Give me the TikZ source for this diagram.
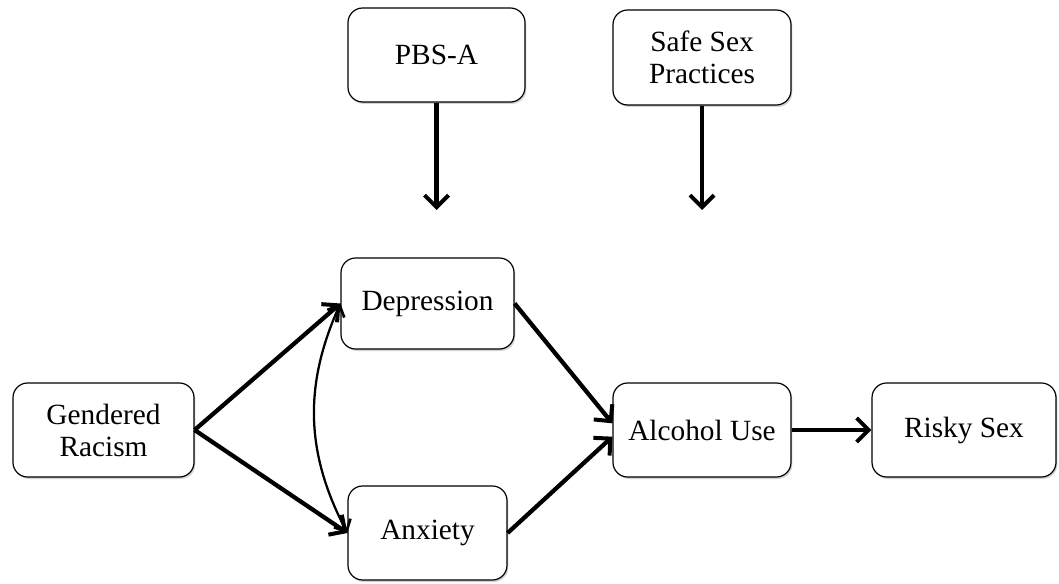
\documentclass[tikz,border=0pt]{standalone}
\usepackage{fontspec}
\setmainfont{Liberation Serif}
\usetikzlibrary{arrows.meta,shadows}

\tikzset{every picture/.style={line width=0.75pt}}
\tikzset{
  box/.style={draw, rounded corners=11pt, line width=0.9pt, fill=white, align=center,
    font=\fontsize{22}{24}\selectfont,
    drop shadow={shadow xshift=1pt, shadow yshift=-1.5pt, opacity=0.35}},
  path/.style={line width=3.2pt, -{Straight Barb[length=9pt,width=18pt,line width=3pt]}},
  corr/.style={line width=1.7pt, {Straight Barb[length=7pt,width=14pt,line width=2pt]}-{Straight Barb[length=7pt,width=14pt,line width=2pt]}}
}

\begin{document}
\begin{tikzpicture}[x=0.75pt,y=0.75pt,yscale=-1,xscale=1]
\useasboundingbox (0,0) rectangle (1059,584);

% Boxes
\node [box, minimum width=135.75pt, minimum height=70.5pt] (gend) at (103.5,430) {Gendered\\Racism};
\node [box, minimum width=132.75pt, minimum height=70.5pt] (pbs) at (436.5,55) {PBS-A};
\node [box, minimum width=133.5pt, minimum height=71.25pt] (safe) at (702,57.5) {Safe Sex\\Practices};
\node [box, minimum width=129.75pt, minimum height=68.25pt] (dep) at (427.5,303.5) {Depression};
\node [box, minimum width=119.25pt, minimum height=70.5pt] (anx) at (427.5,533) {Anxiety};
\node [box, minimum width=133.5pt, minimum height=70.5pt] (alc) at (702,430) {Alcohol Use};
\node [box, minimum width=138pt, minimum height=70.5pt] (risky) at (964,430) {Risky Sex};

% Moderator arrows
\coordinate (pbsend) at (436.5,210);
\coordinate (safeend) at (702,210);
\draw [path] (pbs.south) -- (pbsend);
\draw [path] (safe.south) -- (safeend);

% Paths
\draw [path] (gend.east) -- (dep.west);
\draw [path] (gend.east) -- (anx.west);
\draw [corr] (dep.west) to[bend left=26] (anx.west);
\draw [path] (dep.east) -- ([yshift=-5pt]alc.west);
\draw [path] (anx.east) -- ([yshift=5pt]alc.west);
\draw [path] (alc.east) -- (risky.west);
\end{tikzpicture}
\end{document}
